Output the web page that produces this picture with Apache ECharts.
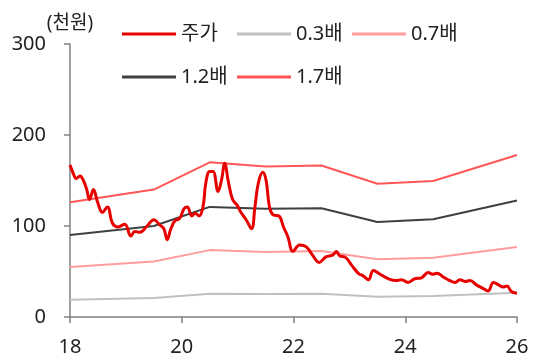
<!DOCTYPE html>
<html>
<head>
<meta charset="utf-8">
<script src="https://cdn.jsdelivr.net/npm/echarts@6/dist/echarts.min.js"></script>
<style>
  html, body { margin: 0; padding: 0; background: #fff; }
  #chart { width: 540px; height: 360px; }
</style>
</head>
<body>
<div id="chart"></div>
<script>
// 연도 (x축, 18 = 2018)
var xTicks = [18, 20, 22, 24, 26];
var yTicks = [0, 100, 200, 300];

// PER 밴드 기준 시점
var bandYears = [18, 19.5, 20.5, 21.5, 22.5, 23.5, 24.5, 26];
var band03 = [19, 21, 25.5, 25.3, 25.5, 22.3, 23, 26.7];
var band07 = [55, 61, 73.5, 71.5, 72.5, 63.5, 65, 77];
var band12 = [90, 100, 121, 119, 119.5, 104.5, 107.5, 128];
var band17 = [126, 140, 170, 165.5, 166.5, 146.5, 149.5, 178];

// 주가 (천원)
var stockDates = [18.0, 18.07, 18.11, 18.18, 18.24, 18.3, 18.35, 18.42, 18.49, 18.58,
  18.67, 18.76, 18.86, 18.98, 19.09, 19.16, 19.25, 19.38, 19.5, 19.61,
  19.68, 19.74, 19.8, 19.88, 19.96, 20.04, 20.1, 20.18, 20.24, 20.31,
  20.38, 20.43, 20.5, 20.56, 20.65, 20.71, 20.77, 20.83, 20.91, 20.99,
  21.05, 21.16, 21.25, 21.31, 21.37, 21.45, 21.51, 21.57, 21.64, 21.74,
  21.82, 21.9, 21.99, 22.11, 22.23, 22.34, 22.46, 22.58, 22.7, 22.77,
  22.83, 22.92, 23.04, 23.16, 23.25, 23.34, 23.43, 23.55, 23.7, 23.84,
  23.93, 24.05, 24.17, 24.29, 24.41, 24.49, 24.57, 24.68, 24.8, 24.89,
  24.98, 25.07, 25.16, 25.28, 25.39, 25.48, 25.58, 25.68, 25.75, 25.82,
  25.9, 26.0];
var stockPrices = [167, 156, 152, 155, 150, 140, 129, 140, 127, 115,
  121, 103, 99, 102, 89, 94, 93, 100, 107, 101,
  97, 85, 96, 106, 108, 119, 121, 111, 114, 111,
  121, 147, 160, 160, 138, 150, 169, 150, 129, 123,
  116, 106, 97, 121, 147, 159, 150, 121, 112, 111,
  99, 88, 72, 79, 77, 68, 60, 66, 68, 72,
  67, 66, 57, 48, 45, 41, 51, 47, 42, 40,
  41, 38, 42, 43, 49, 47, 48, 44, 40, 38,
  41, 39, 40, 35, 31.5, 28.6, 38, 35, 33, 34,
  28, 26];

function pairs(xs, ys) {
  var out = [];
  for (var i = 0; i < xs.length; i++) out.push([xs[i], ys[i]]);
  return out;
}

var font = "'Noto Sans', 'Noto Sans CJK KR', sans-serif";
var axisColor = '#808080';

var legendBase = {
  icon: 'rect',
  itemWidth: 54,
  itemHeight: 3,
  textStyle: { fontSize: 20, color: '#222', fontFamily: font },
  padding: 0
};
function legendAt(name, left, top) {
  return Object.assign({}, legendBase, { data: [name], left: left, top: top });
}

var chart = echarts.init(document.getElementById('chart'));
var option = {
  animation: false,
  textStyle: { fontFamily: font },
  legend: [
    legendAt('주가', 122, 24),
    legendAt('0.3배', 237, 24),
    legendAt('0.7배', 352, 24),
    legendAt('1.2배', 122, 67),
    legendAt('1.7배', 237, 67)
  ],
  grid: { left: 70, right: 23, top: 44, bottom: 43 },
  xAxis: {
    type: 'value',
    min: xTicks[0],
    max: xTicks[xTicks.length - 1],
    interval: 2,
    axisLine: { show: true, lineStyle: { color: axisColor, width: 1.5 } },
    axisTick: { show: true, inside: false, length: 6, lineStyle: { color: axisColor, width: 1.5 } },
    axisLabel: { fontSize: 20, color: '#222', margin: 20, fontFamily: font },
    splitLine: { show: false }
  },
  yAxis: {
    type: 'value',
    min: yTicks[0],
    max: yTicks[yTicks.length - 1],
    interval: 100,
    name: '(천원)',
    nameLocation: 'end',
    nameGap: 11,
    nameTextStyle: { fontSize: 19, color: '#222', align: 'center', fontFamily: font },
    axisLine: { show: true, lineStyle: { color: axisColor, width: 1.5 } },
    axisTick: { show: true, inside: false, length: 6, lineStyle: { color: axisColor, width: 1.5 } },
    axisLabel: { fontSize: 20, color: '#222', margin: 24, fontFamily: font },
    splitLine: { show: false }
  },
  series: [
    { name: '0.3배', type: 'line', data: pairs(bandYears, band03), symbol: 'none',
      lineStyle: { color: '#c0c0c0', width: 2 }, itemStyle: { color: '#c0c0c0' } },
    { name: '0.7배', type: 'line', data: pairs(bandYears, band07), symbol: 'none',
      lineStyle: { color: '#ff9c9c', width: 2 }, itemStyle: { color: '#ff9c9c' } },
    { name: '1.2배', type: 'line', data: pairs(bandYears, band12), symbol: 'none',
      lineStyle: { color: '#404040', width: 2 }, itemStyle: { color: '#404040' } },
    { name: '1.7배', type: 'line', data: pairs(bandYears, band17), symbol: 'none',
      lineStyle: { color: '#ff5757', width: 2 }, itemStyle: { color: '#ff5757' } },
    { name: '주가', type: 'line', data: pairs(stockDates, stockPrices), symbol: 'none',
      smooth: 0.4, z: 5,
      lineStyle: { color: '#e60000', width: 3 }, itemStyle: { color: '#e60000' } }
  ]
};
chart.setOption(option);
</script>
</body>
</html>
